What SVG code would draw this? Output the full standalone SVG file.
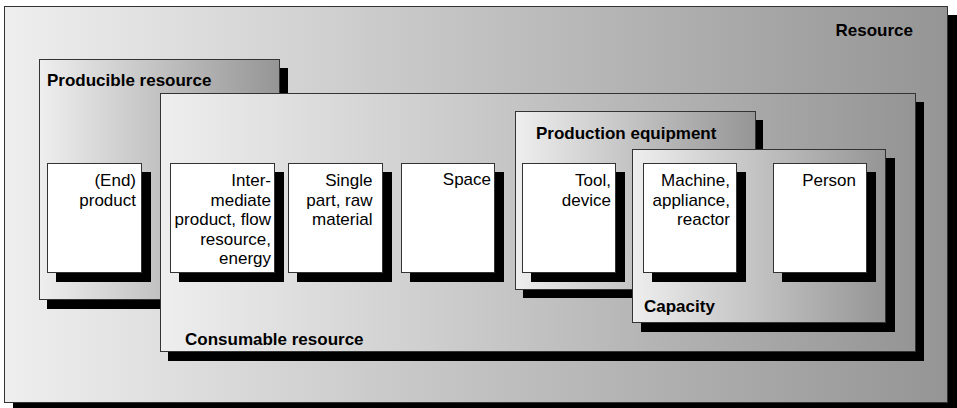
<svg xmlns="http://www.w3.org/2000/svg" width="957" height="408" viewBox="0 0 957 408">
<defs>
<linearGradient id="g" x1="0" y1="0" x2="1" y2="0">
<stop offset="0" stop-color="#eeeeee"/>
<stop offset="1" stop-color="#959595"/>
</linearGradient>
</defs>
<style>
.box{fill:url(#g);stroke:#333;stroke-width:1}
.card{fill:#fff;stroke:#333;stroke-width:1}
.sh{fill:#000}
text{font-family:"Liberation Sans",Arial,sans-serif;font-size:17px;fill:#000}
.h{font-weight:bold}
.r{text-anchor:end}
</style>
<rect width="957" height="408" fill="#fff"/>
<g id="resource">
<rect class="sh" x="13" y="15" width="944" height="397"/>
<rect class="box" x="4.5" y="6.5" width="943" height="396"/>
<text class="h r" x="913" y="36">Resource</text>
</g>
<g id="producible">
<rect class="sh" x="47" y="68" width="241" height="241"/>
<rect class="box" x="39.5" y="59.5" width="240" height="240"/>
<text class="h" x="47" y="86">Producible resource</text>
</g>
<g id="consumable">
<rect class="sh" x="168" y="102" width="756" height="259"/>
<rect class="box" x="160.5" y="93.5" width="755" height="258"/>
<text class="h" x="185" y="345">Consumable resource</text>
</g>
<g id="production-equipment">
<rect class="sh" x="523" y="120" width="240" height="178"/>
<rect class="box" x="515.5" y="111.5" width="240" height="178"/>
<text class="h" x="536" y="139">Production equipment</text>
</g>
<g id="capacity">
<rect class="sh" x="641" y="158" width="254" height="174"/>
<rect class="box" x="632.5" y="149.5" width="253" height="173"/>
<text class="h" x="644" y="312">Capacity</text>
</g>
<g id="end-product">
<rect class="sh" x="56" y="172" width="95" height="110"/>
<rect class="card" x="47.5" y="163.5" width="94" height="109"/>
<text class="r" x="136" y="186">(End)</text>
<text class="r" x="136" y="205.5">product</text>
</g>
<g id="intermediate">
<rect class="sh" x="179" y="172" width="105" height="110"/>
<rect class="card" x="170.5" y="163.5" width="104" height="109"/>
<text class="r" x="271" y="186">Inter-</text>
<text class="r" x="271" y="205.5">mediate</text>
<text class="r" x="271" y="225">product, flow</text>
<text class="r" x="271" y="244.5">resource,</text>
<text class="r" x="271" y="264">energy</text>
</g>
<g id="single-part">
<rect class="sh" x="297" y="172" width="95" height="110"/>
<rect class="card" x="288.5" y="163.5" width="94" height="109"/>
<text class="r" x="372.5" y="186">Single</text>
<text class="r" x="372.5" y="205.5">part, raw</text>
<text class="r" x="372.5" y="225">material</text>
</g>
<g id="space">
<rect class="sh" x="410" y="172" width="94" height="110"/>
<rect class="card" x="401.5" y="163.5" width="93" height="109"/>
<text class="r" x="491" y="185">Space</text>
</g>
<g id="tool">
<rect class="sh" x="531" y="172" width="94" height="110"/>
<rect class="card" x="522.5" y="163.5" width="93" height="109"/>
<text class="r" x="611" y="186">Tool,</text>
<text class="r" x="611" y="205.5">device</text>
</g>
<g id="machine">
<rect class="sh" x="652" y="172" width="94" height="110"/>
<rect class="card" x="643.5" y="163.5" width="93" height="109"/>
<text class="r" x="730" y="186">Machine,</text>
<text class="r" x="730" y="205.5">appliance,</text>
<text class="r" x="730" y="225">reactor</text>
</g>
<g id="person">
<rect class="sh" x="782" y="172" width="94" height="110"/>
<rect class="card" x="773.5" y="163.5" width="93" height="109"/>
<text class="r" x="856" y="186">Person</text>
</g>
<g id="connectors"></g>
</svg>
